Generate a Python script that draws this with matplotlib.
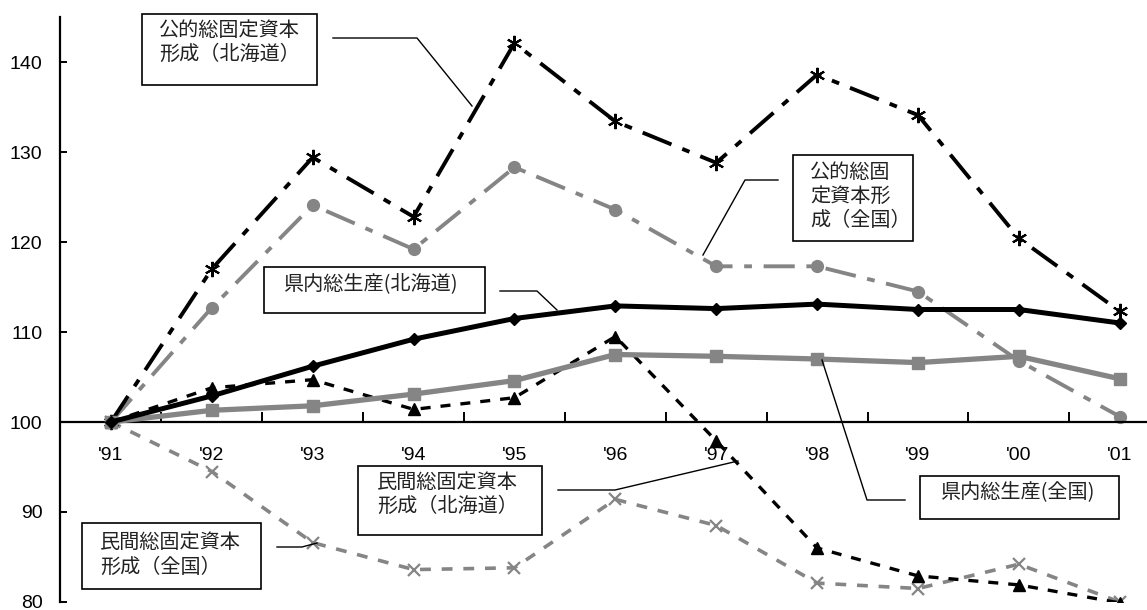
import matplotlib
matplotlib.use("Agg")
import matplotlib.pyplot as plt
from matplotlib.patches import Rectangle
from matplotlib.lines import Line2D

years = ["'91", "'92", "'93", "'94", "'95", "'96", "'97", "'98", "'99", "'00", "'01"]

public_hokkaido = [100, 117.0, 129.4, 122.8, 142.1, 133.4, 128.8, 138.6, 134.1, 120.4, 112.3]
public_japan = [100, 112.7, 124.1, 119.2, 128.3, 123.6, 117.3, 117.3, 114.5, 106.8, 100.6]
gdp_hokkaido = [100, 102.9, 106.2, 109.2, 111.5, 112.9, 112.6, 113.1, 112.5, 112.5, 111.0]
gdp_japan = [100, 101.3, 101.8, 103.1, 104.6, 107.5, 107.3, 107.0, 106.6, 107.3, 104.8]
private_hokkaido = [100, 103.8, 104.7, 101.4, 102.7, 109.5, 97.9, 86.0, 82.9, 81.9, 79.9]
private_japan = [100, 94.5, 86.6, 83.6, 83.8, 91.4, 88.5, 82.1, 81.5, 84.2, 80.0]

W, H = 1147, 610
gray = '#858585'

fig = plt.figure(figsize=(W / 100, H / 100), dpi=100)
ax = fig.add_axes([60.5 / W, 8 / H, (W - 60.5) / W, 585 / H])

x = list(range(len(years)))

ax.plot(x, private_japan, color=gray, lw=2.6, dashes=(3, 3), marker='x',
        ms=9, mew=1.6, zorder=2)
ax.plot(x, private_hokkaido, color='black', lw=2.4, dashes=(3, 3), marker='^',
        ms=9, zorder=3)
ax.plot(x, public_japan, color=gray, lw=2.8, dashes=(8, 3, 2, 3), marker='o',
        ms=8.5, zorder=2)
ax.plot(x, public_hokkaido, color='black', lw=2.8, dashes=(8, 3, 2, 3),
        marker=(6, 2, 0), ms=11, mew=1.5, zorder=3)
ax.plot(x, gdp_japan, color=gray, lw=3.8, marker='s', ms=8, zorder=4)
ax.plot(x, gdp_hokkaido, color='black', lw=3.6, marker='D', ms=6, zorder=5)

ax.set_xlim(-0.5, 10.27)
ax.set_ylim(80, 145)

for s in ['top', 'right']:
    ax.spines[s].set_visible(False)
ax.spines['bottom'].set_position(('data', 100))
ax.spines['left'].set_linewidth(1.6)
ax.spines['bottom'].set_linewidth(1.6)

ax.set_yticks(range(80, 141, 10))
ax.tick_params(axis='y', direction='in', length=5, width=1.4, pad=13,
               labelsize=14)
ax.set_xticks(x)
ax.set_xticklabels(years)
ax.set_xticks([i + 0.5 for i in range(10)], minor=True)
ax.tick_params(axis='x', which='major', length=0, pad=18, labelsize=14)
ax.tick_params(axis='x', which='minor', direction='in', length=7, width=1.4)
for lab in ax.get_xticklabels() + ax.get_yticklabels():
    lab.set_fontfamily('Liberation Sans')


def fx(px):
    return px / W


def fy(py):
    return 1 - py / H


jp = ['Noto Sans CJK JP', 'DejaVu Sans']

# label boxes: (left, top, right, bottom), text x, line centres, lines
boxes = [
    ((142, 14, 317, 85), 159, [30, 54], ["公的総固定資本", "形成（北海道）"]),
    ((793, 155, 913, 241), 810, [172, 196, 220], ["公的総固", "定資本形", "成（全国）"]),
    ((264, 267, 485, 313), 283, [284], ["県内総生産(北海道)"]),
    ((358, 466, 542, 535), 377, [482, 506], ["民間総固定資本", "形成（北海道）"]),
    ((82, 523, 261, 589), 100, [542, 567], ["民間総固定資本", "形成（全国）"]),
    ((920, 476, 1119, 519), 940, [493], ["県内総生産(全国)"]),
]
for (l, t, r, b), tx, ys, lines in boxes:
    fig.patches.append(Rectangle((fx(l), fy(b)), (r - l) / W, (b - t) / H,
                                 transform=fig.transFigure, facecolor='white',
                                 edgecolor='black', lw=1.2, zorder=6))
    for ty, txt in zip(ys, lines):
        fig.text(fx(tx), fy(ty), txt, ha='left', va='center', fontsize=14.5,
                 family=jp, color='#222222', zorder=7)

# leader lines
leaders = [
    [(333, 38), (417, 38), (472, 106)],
    [(778, 180), (745, 180), (703, 255)],
    [(500, 291), (537, 291), (557, 310)],
    [(558, 490), (615, 490), (738, 461)],
    [(277, 547), (302, 547), (317, 543)],
    [(905, 500), (867, 500), (822, 360)],
]
for pts in leaders:
    fig.lines.append(Line2D([fx(p[0]) for p in pts], [fy(p[1]) for p in pts],
                            transform=fig.transFigure, color='black', lw=1.0,
                            zorder=8))

plt.savefig('out.png', dpi=100)
